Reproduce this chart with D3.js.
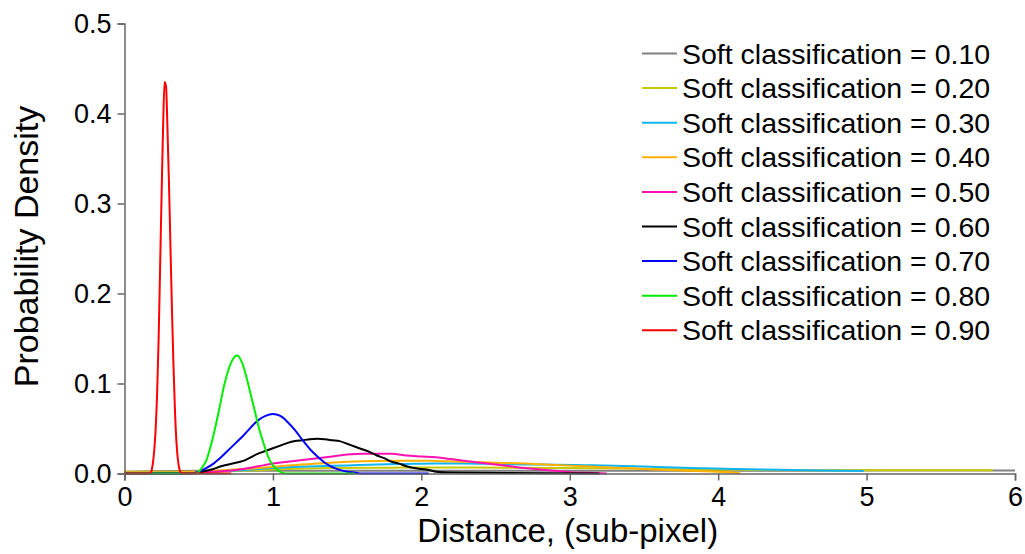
<!DOCTYPE html>
<html>
<head>
<meta charset="utf-8">
<script src="https://cdn.jsdelivr.net/npm/d3@7"></script>
<style>
  body { margin: 0; background: #fff; }
  svg { display: block; font-family: "Liberation Sans", Arial, sans-serif; }
</style>
</head>
<body>
<div id="chart"></div>
<script>
// === data: [distance, density]
const labels = ["0.10", "0.20", "0.30", "0.40", "0.50", "0.60", "0.70", "0.80", "0.90"];
const colors = ["#808080", "#c8c800", "#10b4f0", "#ffb000", "#ff10b0", "#000000", "#0000ff", "#00ee00", "#ff0000"];

const sc10 = [[0,0.002],[0.5,0.003],[1,0.003],[2,0.003],[3,0.003],[4,0.003],[5,0.0032],[6,0.0034]];
const sc20 = [[0,0.002],[0.5,0.002],[0.8,0.003],[1.1,0.005],[1.4,0.006],[1.8,0.0065],[2.2,0.0068],[2.6,0.0065],
  [3,0.006],[3.4,0.0055],[3.8,0.0045],[4.2,0.004],[4.6,0.0037],[5,0.0035],[5.5,0.0035],[5.85,0.0035]];
const sc30 = [[0,0.001],[0.5,0.002],[0.7,0.003],[0.9,0.005],[1.1,0.007],[1.3,0.008],[1.5,0.009],[1.7,0.01],
  [1.9,0.0106],[2.1,0.011],[2.3,0.011],[2.5,0.0105],[2.7,0.01],[2.9,0.0098],[3.1,0.0092],[3.3,0.0087],
  [3.5,0.0078],[3.7,0.0066],[3.9,0.0058],[4.1,0.005],[4.3,0.0045],[4.5,0.004],[4.7,0.0033],[4.98,0.0027]];
const sc40 = [[0,0.0015],[0.3,0.0015],[0.5,0.002],[0.7,0.004],[0.9,0.006],[1.1,0.009],[1.3,0.011],[1.5,0.013],
  [1.7,0.014],[1.9,0.0142],[2.1,0.014],[2.3,0.013],[2.5,0.012],[2.7,0.011],[2.9,0.0095],[3.1,0.008],
  [3.3,0.0065],[3.5,0.005],[3.7,0.0035],[3.9,0.0025],[4.1,0.0012],[4.15,0]];
const sc50 = [[0,0],[0.4,0],[0.5,0.001],[0.6,0.002],[0.7,0.003],[0.8,0.005],[0.9,0.008],[1,0.011],[1.1,0.013],
  [1.2,0.015],[1.3,0.017],[1.4,0.019],[1.5,0.021],[1.6,0.022],[1.7,0.022],[1.8,0.022],[1.9,0.02],[2,0.019],
  [2.1,0.018],[2.2,0.016],[2.3,0.014],[2.4,0.012],[2.5,0.01],[2.6,0.008],[2.7,0.006],[2.8,0.0045],
  [2.9,0.003],[3,0.0015],[3.1,0.0008],[3.2,0.0003],[3.25,0]];
const sc60 = [[0,0],[0.45,0],[0.5,0.001],[0.55,0.003],[0.6,0.005],[0.65,0.008],[0.7,0.01],[0.75,0.012],
  [0.8,0.014],[0.85,0.018],[0.9,0.022],[0.95,0.025],[1,0.028],[1.05,0.031],[1.1,0.034],[1.15,0.036],
  [1.2,0.037],[1.25,0.038],[1.3,0.0385],[1.35,0.038],[1.4,0.037],[1.45,0.036],[1.5,0.033],[1.55,0.03],
  [1.6,0.027],[1.65,0.024],[1.7,0.02],[1.75,0.017],[1.8,0.013],[1.85,0.011],[1.9,0.008],[1.95,0.006],
  [2,0.005],[2.05,0.004],[2.1,0.002],[2.2,0.001],[3.2,0]];
const sc70 = [[0,0],[0.45,0],[0.5,0.002],[0.55,0.006],[0.6,0.011],[0.65,0.018],[0.7,0.026],[0.75,0.034],
  [0.8,0.042],[0.85,0.051],[0.9,0.059],[0.95,0.064],[1,0.066],[1.05,0.064],[1.1,0.057],[1.15,0.048],
  [1.2,0.037],[1.25,0.027],[1.3,0.019],[1.35,0.012],[1.4,0.007],[1.45,0.004],[1.5,0.002],[1.55,0.001],
  [1.6,0],[2.05,0]];
const sc80 = [[0,0],[0.48,0],[0.5,0.002],[0.52,0.006],[0.55,0.014],[0.58,0.03],[0.61,0.05],[0.64,0.073],
  [0.67,0.097],[0.7,0.115],[0.73,0.127],[0.76,0.131],[0.79,0.124],[0.82,0.108],[0.85,0.088],[0.88,0.068],
  [0.91,0.048],[0.94,0.032],[0.97,0.018],[1,0.009],[1.03,0.004],[1.06,0.001],[1.1,0],[1.55,0]];
const sc90 = [[0,0],[0.17,0],[0.18,0.002],[0.19,0.01],[0.2,0.025],[0.21,0.05],[0.22,0.09],[0.23,0.15],
  [0.24,0.23],[0.25,0.31],[0.26,0.385],[0.27,0.435],[0.28,0.43],[0.29,0.38],[0.3,0.32],[0.31,0.25],
  [0.32,0.18],[0.33,0.12],[0.34,0.07],[0.35,0.035],[0.36,0.015],[0.37,0.005],[0.38,0.001],[0.4,0],[0.72,0]];

const series = [sc10, sc20, sc30, sc40, sc50, sc60, sc70, sc80, sc90];
const xTicks = [0, 1, 2, 3, 4, 5, 6];
const yTicks = [0, 0.1, 0.2, 0.3, 0.4, 0.5];

// === layout
const W = 1025, H = 554;
const box = {x1: 124.5, x2: 1015, y1: 23.5, y2: 473.5};

const x = d3.scaleLinear().domain([0, 6]).range([box.x1, box.x2]);
const y = d3.scaleLinear().domain([0, 0.5]).range([box.y2, box.y1]);

const svg = d3.select("#chart").append("svg")
  .attr("width", W).attr("height", H)
  .attr("viewBox", "0 0 " + W + " " + H);

const line = d3.line()
  .x(d => x(d[0]))
  .y(d => y(d[1]))
  .curve(d3.curveMonotoneX);

// curves
svg.append("g").selectAll("path")
  .data(series)
  .join("path")
  .attr("fill", "none")
  .attr("stroke", (d, i) => colors[i])
  .attr("stroke-width", 2)
  .attr("stroke-linejoin", "round")
  .attr("d", line);

// axes
const xAxis = svg.append("g")
  .attr("transform", "translate(0," + box.y2 + ")")
  .call(d3.axisBottom(x).tickValues(xTicks).tickFormat(d3.format("d")).tickSizeOuter(0).tickSize(7).tickPadding(6));
const yAxis = svg.append("g")
  .attr("transform", "translate(" + box.x1 + ",0)")
  .call(d3.axisLeft(y).tickValues(yTicks).tickFormat(d3.format(".1f")).tickSizeOuter(0).tickSize(7).tickPadding(6));

[xAxis, yAxis].forEach(a => {
  a.select(".domain").attr("stroke", "#666").attr("stroke-width", 1.5);
  a.selectAll(".tick line").attr("stroke", "#666").attr("stroke-width", 1.5);
  a.selectAll(".tick text").attr("fill", "#000").style("font-size", "27px")
    .style("font-family", "'Liberation Sans', Arial, sans-serif");
});

// axis titles
svg.append("text")
  .attr("x", (box.x1 + box.x2) / 2 - 2)
  .attr("y", 542)
  .attr("text-anchor", "middle")
  .style("font-size", "33px")
  .text("Distance, (sub-pixel)");

svg.append("text")
  .attr("transform", "translate(38," + ((box.y1 + box.y2) / 2 - 2) + ") rotate(-90)")
  .attr("text-anchor", "middle")
  .style("font-size", "34px")
  .text("Probability Density");

// legend
const legend = svg.append("g").attr("transform", "translate(642,53.5)");
const rows = legend.selectAll("g")
  .data(labels)
  .join("g")
  .attr("transform", (d, i) => "translate(0," + (i * 34.6) + ")");
rows.append("line")
  .attr("x1", 0).attr("x2", 35)
  .attr("stroke", (d, i) => colors[i])
  .attr("stroke-width", 2);
rows.append("text")
  .attr("x", 40).attr("y", 10)
  .style("font-size", "28.5px")
  .text(d => "Soft classification = " + d);
</script>
</body>
</html>
